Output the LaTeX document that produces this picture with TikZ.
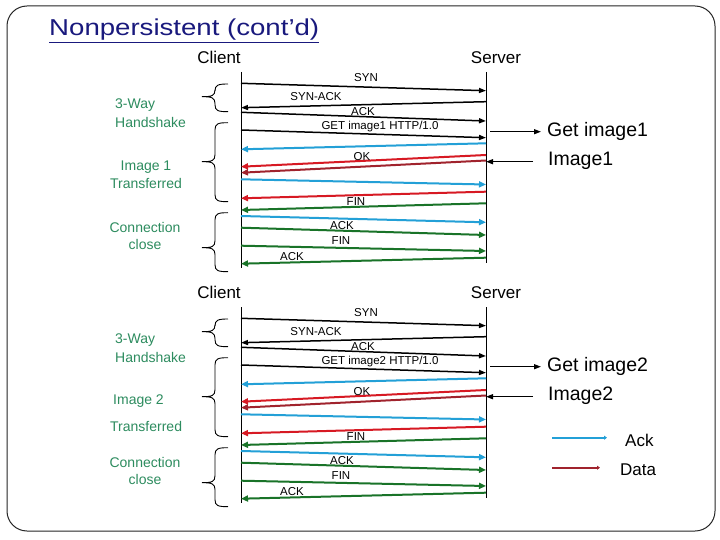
\documentclass[tikz,border=0pt]{standalone}
\usepackage{fontspec}
\setmainfont{Liberation Sans}
\usetikzlibrary{arrows.meta}
\definecolor{ackblue}{RGB}{35,160,215}
\definecolor{datared}{RGB}{215,25,35}
\definecolor{datadark}{RGB}{160,35,45}
\definecolor{fingreen}{RGB}{25,115,40}
\definecolor{lblgreen}{RGB}{45,140,95}
\definecolor{titleblue}{RGB}{25,25,125}
\tikzset{
  blk/.style={line width=1.5pt, black, -{Triangle[length=7pt,width=5pt]}},
  blu/.style={line width=2pt, ackblue, -{Triangle[length=7pt,width=6pt]}},
  red1/.style={line width=2pt, datared, -{Triangle[length=7pt,width=6pt]}},
  red2/.style={line width=2pt, datadark, -{Triangle[length=7pt,width=6pt]}},
  grn/.style={line width=2pt, fingreen, -{Triangle[length=7pt,width=6pt]}},
  msglbl/.style={inner sep=0pt, font=\fontsize{11.5}{13}\selectfont},
  sidelbl/.style={inner sep=0pt, text=lblgreen, font=\fontsize{14}{16.5}\selectfont},
  hostlbl/.style={inner sep=0pt, font=\fontsize{17}{20}\selectfont},
  rightlbl/.style={inner sep=0pt, anchor=west, font=\fontsize{19.5}{22}\selectfont},
  leglbl/.style={inner sep=0pt, anchor=west, font=\fontsize{17}{20}\selectfont},
  vline/.style={line width=1pt, black},
  bracestyle/.style={line width=0.9pt, black},
}
\newcommand\msgarrow[6]{%
  \coordinate (#1a) at (#2,#3);
  \coordinate (#1b) at (#4,#5);
  \draw[#6] (#1a) -- (#1b);}
\newcommand\mybrace[3]{%
  \draw[bracestyle] (228,#1) .. controls (218,#1) and (215,#1+1) .. (215,#1+7)
    -- (215,#2-7) .. controls (215,#2-1) and (212,#2) .. (202,#2)
    .. controls (212,#2) and (215,#2+1) .. (215,#2+7)
    -- (215,#3-7) .. controls (215,#3-1) and (218,#3) .. (228,#3);}
\newcommand\nppart[3]{%
  \node[hostlbl] (client) at (219,57) {Client};
  \node[hostlbl] (server) at (496,58) {Server};
  \coordinate (ctop) at (241,72); \coordinate (cbot) at (241,268);
  \coordinate (stop) at (486,72); \coordinate (sbot) at (486,263);
  \draw[vline] (ctop) -- (cbot);
  \draw[vline] (stop) -- (sbot);
  \msgarrow{m1}{241}{83.3}{486}{90.7}{blk}
  \msgarrow{m2}{486}{101.7}{241}{107.7}{blk}
  \msgarrow{m3}{241}{112.3}{486}{121}{blk}
  \msgarrow{m4}{241}{130}{486}{137.7}{blk}
  \msgarrow{m5}{486}{143.3}{241}{149.3}{blu}
  \msgarrow{m6}{486}{155}{241}{166.7}{red1}
  \msgarrow{m7}{486}{160.5}{241}{172.7}{red2}
  \msgarrow{m8}{241}{179.3}{486}{184.5}{blu}
  \msgarrow{m9}{486}{191.7}{241}{198.3}{red1}
  \msgarrow{m10}{486}{203.3}{241}{210}{grn}
  \msgarrow{m11}{241}{216}{486}{222.3}{blu}
  \msgarrow{m12}{241}{227.7}{486}{235}{grn}
  \msgarrow{m13}{241}{245.7}{486}{251}{grn}
  \msgarrow{m14}{486}{257.7}{241}{263.7}{grn}
  \node[msglbl] (l1) at (366,78) {SYN};
  \node[msglbl] (l2) at (316,97) {SYN-ACK};
  \node[msglbl] (l3) at (363,112) {ACK};
  \node[msglbl] (l4) at (380,127) {#1};
  \node[msglbl] (l6) at (362,157) {OK};
  \node[msglbl] (l10) at (356,202) {FIN};
  \node[msglbl] (l12) at (342,226) {ACK};
  \node[msglbl] (l13) at (341,241) {FIN};
  \node[msglbl] (l14) at (292,257) {ACK};
  \mybrace{84}{96.7}{111.7}
  \mybrace{122.7}{161.7}{201.7}
  \mybrace{212.7}{247.7}{271.7}
  \node[sidelbl, anchor=west] (hs1) at (115,105) {3-Way};
  \node[sidelbl, anchor=west] (hs2) at (115,122) {Handshake};
  \node[sidelbl] (cc1) at (145,227) {Connection};
  \node[sidelbl] (cc2) at (145,244) {close};
  \node[rightlbl] (getlbl) at (547,131) {#2};
  \node[rightlbl] (imglbl) at (548,161) {#3};
  \coordinate (gets) at (490,131.7);
  \coordinate (gete) at (541,131.7);
  \draw[blk, line width=1.2pt] (gets) -- (gete);
  \coordinate (imgs) at (533,161.7);
  \coordinate (imge) at (486,161.7);
  \draw[blk, line width=1.2pt] (imgs) -- (imge);
}
\begin{document}
\begin{tikzpicture}[x=1pt,y=-1pt]
\useasboundingbox (0,0) rectangle (720,540);
\fill[white] (0,0) rectangle (720,540);
\draw[line width=1pt, black!85, rounded corners=20pt] (7,6) rectangle (715,531);
\node[anchor=west, inner sep=0pt, text=titleblue, xscale=1.2,
      font=\fontsize{23}{26}\selectfont] (title) at (49,31) {\underline{Nonpersistent (cont’d)}};
\begin{scope}[name prefix=A-]
  \nppart{GET image1 HTTP/1.0}{Get image1}{Image1}
  \node[sidelbl] (tr1) at (146,167) {Image 1};
  \node[sidelbl] (tr2) at (146,183) {Transferred};
\end{scope}
\begin{scope}[yshift=-235pt, name prefix=B-]
  \nppart{GET image2 HTTP/1.0}{Get image2}{Image2}
  \node[sidelbl, anchor=west] (tr1) at (113,166.5) {Image 2};
  \node[sidelbl, anchor=west] (tr2) at (110,191) {Transferred};
\end{scope}
\coordinate (ackA) at (552,437.7);
\coordinate (ackB) at (607,437.7);
\draw[line width=2pt, ackblue, -{Triangle[length=3pt,width=4pt]}] (ackA) -- (ackB);
\node[leglbl] (acklbl) at (625,440) {Ack};
\coordinate (datA) at (552,467.7);
\coordinate (datB) at (600,467.7);
\draw[line width=2pt, datadark, -{Triangle[length=3pt,width=4pt]}] (datA) -- (datB);
\node[leglbl] (datlbl) at (620,470) {Data};
\end{tikzpicture}
\end{document}
